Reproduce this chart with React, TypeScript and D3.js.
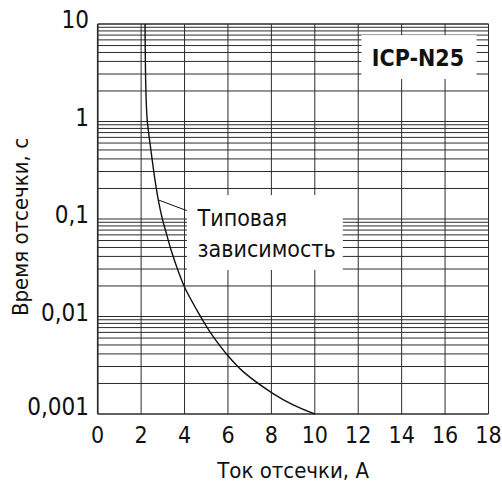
import React from "react";
import * as d3 from "d3";

// ---- data ----
const currentA = [2.18, 2.22, 2.28, 2.45, 2.64, 2.79, 2.99, 3.12, 3.38, 3.69, 4.02, 4.56, 5.02, 5.32, 5.97, 6.7, 8.06, 9.0, 10.0];
const timeS = [10, 2.06, 1.04, 0.51, 0.25, 0.157, 0.0977, 0.0771, 0.0481, 0.03, 0.0196, 0.0117, 0.00785, 0.00621, 0.00403, 0.00272, 0.00163, 0.00124, 0.001];
const xTicks = [0, 2, 4, 6, 8, 10, 12, 14, 16, 18];
const yTicks = [10, 1, 0.1, 0.01, 0.001];
const yTickLabels = ["10", "1", "0,1", "0,01", "0,001"];
const decadeTops = [10, 1, 0.1, 0.01];
const mantissas = [10, 9, 8, 7, 6, 5, 4, 3, 2, 1];
const seriesName = "ICP-N25";
const annotationLines = ["Типовая", "зависимость"];
const annotationFrom = [2.79, 0.157];
const annotationTo = [4.1, 0.122];
const yTitle = "Время отсечки, с";
const xTitle = "Ток отсечки, А";

const W = 502;
const H = 489;
const M = { left: 97.7, right: 13.5, top: 24, bottom: 75 };
const FONT = "'Liberation Sans Narrow', 'DejaVu Sans Condensed', 'Liberation Sans', Arial, sans-serif";
const INK = "#2b2b2b";

export default function App() {
  const x = d3.scaleLinear().domain([0, 18]).range([M.left, W - M.right]);
  const y = d3.scaleLog().domain([0.001, 10]).range([H - M.bottom, M.top]);
  const dec = y(0.1) - y(1);
  const sub = d3.scaleLog().domain([10, 2, 1]).range([0, 0.513 * dec, 0.687 * dec]);

  const line = d3
    .line<number>()
    .x((_, i) => x(currentA[i]))
    .y((_, i) => y(timeS[i]))
    .curve(d3.curveCatmullRom.alpha(0.5));

  const x0 = x(0), x1 = x(18), y0 = y(10), y1 = y(0.001);

  const hLines: number[] = [];
  decadeTops.forEach((d) => mantissas.forEach((m) => hLines.push(y(d) + sub(m))));

  return (
    <svg width={W} height={H} style={{ position: "absolute", left: 0, top: 0, background: "#fff" }}>
      <rect width={W} height={H} fill="#fff" />
      {/* horizontal grid */}
      {hLines.map((py, i) => (
        <line key={"h" + i} x1={x0} x2={x1} y1={py} y2={py} stroke={INK} strokeWidth={1} />
      ))}
      {/* vertical grid */}
      {xTicks.map((t) => (
        <line key={"v" + t} x1={x(t)} x2={x(t)} y1={y0} y2={y1} stroke={INK} strokeWidth={1} />
      ))}
      {/* white boxes behind labels */}
      <rect x={x(12.15)} y={y(7.7)} width={x(17.45) - x(12.15)} height={y(2.73) - y(7.7)} fill="#fff" />
      <rect x={x(4.11)} y={y(0.176)} width={x(11.29) - x(4.11)} height={y(0.03) - y(0.176)} fill="#fff" />
      {/* frame */}
      <line x1={x0} x2={x0} y1={y0} y2={y1} stroke={INK} strokeWidth={1.6} />
      <line x1={x0} x2={x1} y1={y1} y2={y1} stroke={INK} strokeWidth={1.6} />
      <line x1={x0} x2={x1} y1={y0} y2={y0} stroke={INK} strokeWidth={1} />
      <line x1={x1} x2={x1} y1={y0} y2={y1} stroke={INK} strokeWidth={1} />
      {/* curve */}
      <path d={line(timeS) || ""} fill="none" stroke="#111" strokeWidth={1.4} />
      {/* annotation leader */}
      <line
        x1={x(annotationFrom[0])}
        y1={y(annotationFrom[1])}
        x2={x(annotationTo[0])}
        y2={y(annotationTo[1])}
        stroke="#111"
        strokeWidth={1}
      />
      <g fontFamily={FONT} fill="#111">
        {annotationLines.map((s, i) => (
          <text key={s} x={x(4.6)} y={225.5 + i * 31} fontSize={23}>
            {s}
          </text>
        ))}
        <text x={x(14.75)} y={66} fontSize={23} fontWeight="bold" textAnchor="middle">
          {seriesName}
        </text>
        {yTicks.map((t, i) => (
          <text key={"yt" + t} x={89} y={Math.min(y(t) + 4, y1 + 1)} fontSize={24} textAnchor="end">
            {yTickLabels[i]}
          </text>
        ))}
        {xTicks.map((t) => (
          <text key={"xt" + t} x={x(t)} y={443} fontSize={23} textAnchor="middle">
            {String(t)}
          </text>
        ))}
        <text x={(x0 + x1) / 2} y={478} fontSize={22} textAnchor="middle">
          {xTitle}
        </text>
        <text transform={`translate(28,${227}) rotate(-90)`} fontSize={22} textAnchor="middle">
          {yTitle}
        </text>
      </g>
    </svg>
  );
}
